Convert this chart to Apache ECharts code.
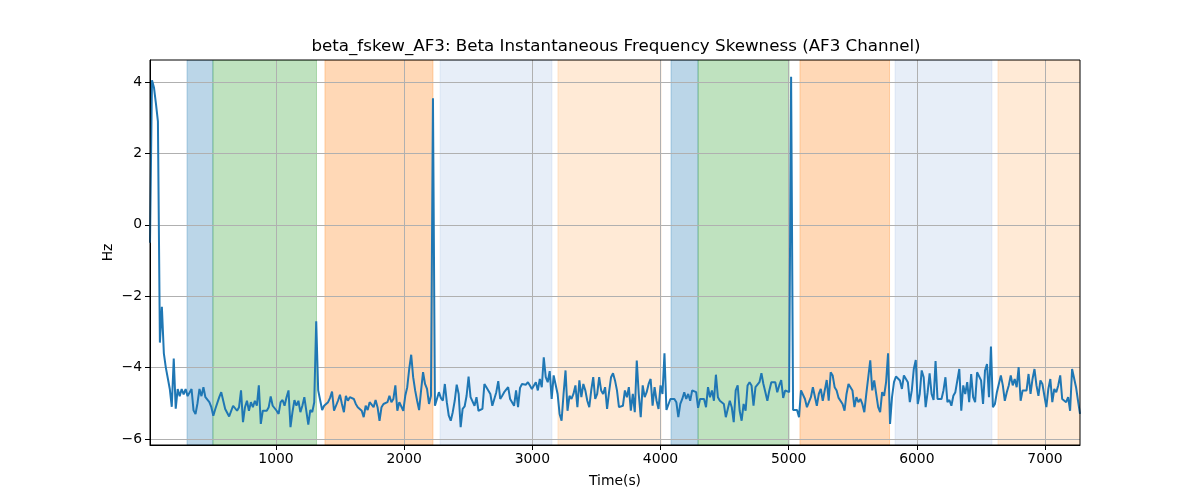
<!DOCTYPE html>
<html>
<head>
<meta charset="utf-8">
<script src="https://cdn.jsdelivr.net/npm/echarts@6/dist/echarts.min.js"></script>
<style>html,body{margin:0;padding:0;background:#fff;}#c{width:1200px;height:500px;}</style>
</head>
<body>
<div id="c"></div>
<script>
// ---- data ----
const tStart = 17, tEnd = 7273;
const seg1 = [-0.5, 4.05, 3.85, 3.4, 2.9, -3.3, -2.3, -3.6, -4.0, -4.3, -4.6, -5.1, -3.75, -5.15, -4.6, -4.8, -4.6, -4.75, -4.6, -4.8, -4.85, -4.6, -5.2, -5.3, -5.0, -4.6, -4.8];
const seg2 = [-4.55, -4.83, -4.79, -4.97, -5.11, -5.35, -5.16, -5.21, -4.83, -4.69, -4.69, -5.16, -5.14, -5.37, -5.37, -5.07, -5.02, -5.21, -5.11, -4.64, -5.53, -5.11, -4.93, -5.21, -4.97, -5.11, -4.93, -5.07, -4.5, -5.58, -5.21, -5.16, -5.21, -5.11, -4.81, -5.07, -5.11, -5.21, -5.3, -4.97, -4.91, -5.07, -4.83, -4.64, -5.67, -5.25, -4.91, -5.07, -4.93, -5.25, -5.07, -4.83, -4.81, -5.6, -5.19, -5.25, -4.97, -2.70, -4.64, -4.69, -5.19, -5.07, -5.07, -4.97, -4.85, -4.67, -5.21, -5.16, -4.93, -4.76, -5.02, -5.25, -4.79, -4.93, -4.83, -4.85, -4.88, -5.02, -5.11, -5.07, -5.21, -5.39, -5.07, -5.19, -4.97, -4.93, -5.11];
const seg3 = [-4.91, -5.11, -5.49, -5.11, -5.02, -5.05, -4.97, -4.79, -4.97, -4.88, -4.5, -5.21, -4.97, -4.97, -5.21, -4.79, -4.55, -4.04, -3.64, -4.27, -4.64, -4.93, -5.19, -4.64, -4.13, -4.46, -4.6, -5.02, -4.79, 3.55, -5.07, -5.07, -4.69, -4.85, -4.93, -4.46, -4.97, -5.35, -5.49, -5.25, -4.93, -4.48, -4.74, -5.67, -5.16, -5.09, -4.79, -4.25, -4.83, -4.85, -5.07, -4.83, -5.21, -5.16, -5.16, -4.46, -4.55, -4.55, -4.74, -5.07, -4.88, -4.69, -4.38, -4.88, -4.79, -4.69, -4.64, -4.55, -4.88, -4.83, -5.07, -4.64, -5.11, -4.57, -4.46, -4.44, -4.48, -4.41, -4.5, -4.6, -4.64, -4.41, -4.64, -4.32, -4.55, -3.71, -4.27, -4.41, -4.1, -4.88, -4.22];
const seg4 = [-4.18, -4.74, -5.3, -5.49, -4.74, -4.08, -5.21, -4.79, -4.88, -4.74, -4.5, -5.11, -4.36, -4.83, -4.46, -4.64, -4.93, -5.11, -4.63, -4.27, -4.88, -4.74, -4.27, -4.64, -4.74, -4.55, -5.16, -4.69, -4.27, -4.16, -4.36, -4.64, -5.11, -5.07, -5.07, -4.64, -4.83, -4.55, -5.21, -4.74, -5.25, -3.8, -4.74, -5.39, -4.5, -4.83, -4.69, -4.46, -4.32, -5.07, -4.55, -4.93, -5.16, -4.5, -4.74, -3.6, -5.19, -5.16, -4.88, -4.93, -4.88, -4.97, -5.39, -5.02, -4.88, -4.69, -4.88, -4.74, -4.93, -4.64, -4.62, -4.69, -5.13, -4.88, -4.85, -4.88, -5.11, -4.55, -4.83, -4.64, -4.93, -4.2, -4.83, -4.93, -4.88, -5.02, -5.39, -5.16];
const seg5 = [-4.93, -5.11, -5.53, -4.64, -4.5, -5.21, -5.49, -5.02, -5.21, -4.5, -4.41, -4.5, -5.07, -4.55, -4.5, -4.41, -4.16, -4.46, -4.69, -4.93, -4.64, -4.41, -4.36, -4.41, -4.69, -4.5, -4.35, -4.85, -4.64, -4.69, -4.69, 4.15, -5.19, -5.21, -5.19, -5.39, -4.64, -4.69, -4.88, -5.11, -5.16, -4.83, -4.55, -4.53, -5.07, -4.74, -4.6, -4.93, -4.64, -4.35, -4.93, -4.13, -4.22, -4.55, -4.64, -4.85, -4.81, -5.02, -5.21, -4.74, -4.46, -4.41, -4.64, -5.11, -4.83, -4.97, -4.88, -5.02, -5.25, -4.74, -4.69, -3.8, -4.64, -4.36, -4.74, -5.11, -5.25, -4.69, -4.79, -4.41, -3.6, -5.58, -4.83, -4.41, -4.25, -4.22, -4.36, -4.6];
const seg6 = [-4.22, -4.22, -4.41, -4.97, -4.64, -4.04, -3.79, -5.02, -4.74, -4.08, -4.27, -5.11, -4.69, -4.16, -4.74, -4.91, -3.82, -4.88, -4.88, -4.88, -4.64, -4.27, -4.97, -4.91, -5.07, -4.79, -4.69, -4.64, -4.04, -5.21, -4.5, -4.74, -4.41, -4.97, -4.18, -4.83, -4.97, -4.13, -4.18, -4.36, -5.02, -4.08, -3.9, -4.83, -3.41, -5.11, -5.02, -4.69, -4.69, -4.22, -4.5, -4.93, -4.69, -4.5, -4.22, -4.5, -4.32, -4.55, -3.99, -4.93, -4.64, -4.69, -4.64, -4.18, -4.74, -4.32, -4.04, -4.5, -4.79, -4.36, -4.46, -4.79, -5.11, -4.6, -4.32, -4.97, -4.6, -4.69, -4.5, -4.22, -4.88, -4.83, -4.97, -4.83, -5.21, -4.04, -4.08, -4.55, -4.93, -5.3];
const values = [].concat(seg1, seg2, seg3, seg4, seg5, seg6);

// shaded phases: start, end, colour index
const bandStarts = [306, 508, 1382, 2280, 3200, 4082, 4293, 5088, 5830, 6633];
const bandEnds   = [508, 1316, 2225, 3153, 4004, 4293, 5003, 5787, 6586, 7273];
const bandKinds  = [0, 1, 2, 3, 4, 0, 1, 2, 3, 4];
const bandColors = ['rgba(31,119,180,0.3)', 'rgba(44,160,44,0.3)', 'rgba(255,127,14,0.3)', 'rgba(174,199,232,0.3)', 'rgba(255,187,120,0.3)'];

const xTicks = [1000, 2000, 3000, 4000, 5000, 6000, 7000];
const yTicks = [-6, -4, -2, 0, 2, 4];
const yMin = -6.17, yMax = 4.62;

// ---- build ----
const step = (tEnd - tStart) / (values.length - 1);
const lineData = values.map((v, i) => [tStart + i * step, v]);
const bandData = bandStarts.map((s, i) => [s, bandEnds[i], bandKinds[i]]);
const font = 'DejaVu Sans';

const chart = echarts.init(document.getElementById('c'), null, {renderer: 'canvas'});
chart.setOption({
  animation: false,
  backgroundColor: '#fff',
  title: {
    text: 'beta_fskew_AF3: Beta Instantaneous Frequency Skewness (AF3 Channel)',
    left: 611, top: 33, textAlign: 'center',
    textStyle: {fontFamily: font, fontSize: 16.7, fontWeight: 'normal', color: '#000'}
  },
  grid: {left: 150, top: 60, width: 930, height: 385, show: true, borderColor: '#000', borderWidth: 1, backgroundColor: 'transparent', z: 3},
  xAxis: {
    type: 'value', min: tStart, max: tEnd, minInterval: 1000, maxInterval: 1000, z: 1,
    name: 'Time(s)', nameLocation: 'middle', nameGap: 29, nameMoveOverlap: false,
    nameTextStyle: {fontFamily: font, fontSize: 13.9, color: '#000'},
    axisLine: {show: true, onZero: false, lineStyle: {color: '#000', width: 1}},
    axisTick: {show: true, length: 5, customValues: xTicks, lineStyle: {color: '#000'}},
    axisLabel: {customValues: xTicks, margin: 7, fontFamily: font, fontSize: 13.9, color: '#000',
      formatter: v => String(v)},
    splitLine: {show: true, lineStyle: {color: '#b0b0b0', width: 1}}
  },
  yAxis: {
    type: 'value', min: yMin, max: yMax, minInterval: 2, maxInterval: 2, z: 1,
    name: 'Hz', nameLocation: 'middle', nameGap: 35, nameRotate: 90, nameMoveOverlap: false,
    nameTextStyle: {fontFamily: font, fontSize: 13.9, color: '#000'},
    axisLine: {show: true, onZero: false, lineStyle: {color: '#000', width: 1}},
    axisTick: {show: true, length: 5, customValues: yTicks, lineStyle: {color: '#000'}},
    axisLabel: {customValues: yTicks, margin: 8, fontFamily: font, fontSize: 13.9, color: '#000',
      formatter: v => String(v).replace('-', '\u2212')},
    splitLine: {show: true, lineStyle: {color: '#b0b0b0', width: 1}}
  },
  series: [
    {
      type: 'custom', z: 0, silent: true, clip: true,
      encode: {x: [0, 1]},
      data: bandData,
      renderItem: (params, api) => {
        const a = api.coord([api.value(0), yMax]);
        const b = api.coord([api.value(1), yMin]);
        const c = bandColors[api.value(2)];
        return {type: 'rect', shape: {x: a[0], y: a[1], width: b[0] - a[0], height: b[1] - a[1]},
          style: {fill: c, stroke: c, lineWidth: 1}};
      }
    },
    {
      type: 'line', z: 2, data: lineData, showSymbol: false, symbol: 'none',
      lineStyle: {color: '#1f77b4', width: 2}, clip: true
    }
  ]
});
</script>
</body>
</html>
